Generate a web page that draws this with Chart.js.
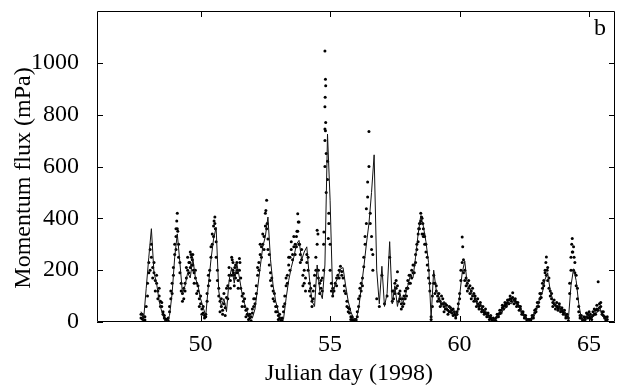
<!DOCTYPE html>
<html>
<head>
<meta charset="utf-8">
<script src="https://cdn.jsdelivr.net/npm/chart.js@4.4.1/dist/chart.umd.min.js"></script>
<style>
  html, body { margin: 0; padding: 0; background: #fff; }
  #fluxChart { display: block; }
</style>
</head>
<body>
<canvas id="fluxChart" width="619" height="388"></canvas>
<script>
// Momentum flux, Julian day 1998 (panel b)
const xTicks = [50, 55, 60, 65];
const yTicks = [0, 200, 400, 600, 800, 1000];
const panelLabel = 'b';
const xTitle = 'Julian day (1998)';
const yTitle = 'Momentum flux (mPa)';

// solid line (0.1 day sampling)
const lineDays = [
  47.7, 47.8, 47.9, 48.0, 48.1, 48.2, 48.3, 48.4, 48.5, 48.6,
  48.7, 48.8, 48.9, 49.0, 49.1, 49.2, 49.3, 49.4, 49.5, 49.6,
  49.7, 49.8, 49.9, 50.0, 50.1, 50.2, 50.3, 50.4, 50.5, 50.6,
  50.7, 50.8, 50.9, 51.0, 51.1, 51.2, 51.3, 51.4, 51.5, 51.6,
  51.7, 51.8, 51.9, 52.0, 52.1, 52.2, 52.3, 52.4, 52.5, 52.6,
  52.7, 52.8, 52.9, 53.0, 53.1, 53.2, 53.3, 53.4, 53.5, 53.6,
  53.7, 53.8, 53.9, 54.0, 54.1, 54.2, 54.3, 54.4, 54.5, 54.6,
  54.7, 54.8, 54.9, 55.0, 55.1, 55.2, 55.3, 55.4, 55.5, 55.6,
  55.7, 55.8, 55.9, 56.0, 56.1, 56.2, 56.3, 56.4, 56.5, 56.6,
  56.7, 56.8, 56.9, 57.0, 57.1, 57.2, 57.3, 57.4, 57.5, 57.6,
  57.7, 57.8, 57.9, 58.0, 58.1, 58.2, 58.3, 58.4, 58.5, 58.6,
  58.7, 58.8, 58.9, 59.0, 59.1, 59.2, 59.3, 59.4, 59.5, 59.6,
  59.7, 59.8, 59.9, 60.0, 60.1, 60.2, 60.3, 60.4, 60.5, 60.6,
  60.7, 60.8, 60.9, 61.0, 61.1, 61.2, 61.3, 61.4, 61.5, 61.6,
  61.7, 61.8, 61.9, 62.0, 62.1, 62.2, 62.3, 62.4, 62.5, 62.6,
  62.7, 62.8, 62.9, 63.0, 63.1, 63.2, 63.3, 63.4, 63.5, 63.6,
  63.7, 63.8, 63.9, 64.0, 64.1, 64.2, 64.3, 64.4, 64.5, 64.6,
  64.7, 64.8, 64.9, 65.0, 65.1, 65.2, 65.3, 65.4, 65.5, 65.6,
  65.7
];
const lineFlux = [
  40, 10, 130, 250, 360, 190, 150, 80, 40, 10,
  0, 25, 110, 250, 340, 230, 110, 140, 190, 170,
  245, 170, 140, 90, 55, 25, 140, 240, 320, 365,
  120, 60, 90, 40, 160, 210, 150, 225, 170, 110,
  70, 40, 20, 15, 50, 130, 210, 290, 330, 405,
  240, 140, 80, 40, 8, 10, 90, 160, 210, 250,
  300, 315, 240, 270, 290, 170, 80, 60, 220, 120,
  90, 220, 725, 470, 100, 150, 170, 205, 210, 140,
  80, 40, 15, 5, 50, 130, 210, 300, 380, 500,
  645, 200, 70, 215, 60, 110, 310, 70, 140, 60,
  110, 70, 100, 140, 180, 170, 250, 340, 410, 370,
  310, 230, 15, 200, 120, 100, 60, 80, 50, 60,
  35, 40, 25, 100, 190, 235, 140, 130, 100, 95,
  60, 70, 40, 45, 20, 25, 8, 12, 25, 30,
  50, 55, 75, 70, 85, 65, 60, 35, 25, 8,
  3, 15, 35, 55, 95, 115, 165, 190, 120, 85,
  60, 65, 45, 50, 25, 10, 140, 205, 160, 70,
  15, 5, 20, 30, 15, 40, 35, 60, 25, 15,
  5
];

// dots (0.05 day sampling, two samples per time, null = no sample)
const dotDays = [
  47.7, 47.75, 47.8, 47.85, 47.9, 47.95, 48.0, 48.05, 48.1, 48.15, 48.2, 48.25, 48.3, 48.35, 48.4, 48.45, 48.5, 48.55, 48.6, 48.65,
  48.7, 48.75, 48.8, 48.85, 48.9, 48.95, 49.0, 49.05, 49.1, 49.15, 49.2, 49.25, 49.3, 49.35, 49.4, 49.45, 49.5, 49.55, 49.6, 49.65,
  49.7, 49.75, 49.8, 49.85, 49.9, 49.95, 50.0, 50.05, 50.1, 50.15, 50.2, 50.25, 50.3, 50.35, 50.4, 50.45, 50.5, 50.55, 50.6, 50.65,
  50.7, 50.75, 50.8, 50.85, 50.9, 50.95, 51.0, 51.05, 51.1, 51.15, 51.2, 51.25, 51.3, 51.35, 51.4, 51.45, 51.5, 51.55, 51.6, 51.65,
  51.7, 51.75, 51.8, 51.85, 51.9, 51.95, 52.0, 52.05, 52.1, 52.15, 52.2, 52.25, 52.3, 52.35, 52.4, 52.45, 52.5, 52.55, 52.6, 52.65,
  52.7, 52.75, 52.8, 52.85, 52.9, 52.95, 53.0, 53.05, 53.1, 53.15, 53.2, 53.25, 53.3, 53.35, 53.4, 53.45, 53.5, 53.55, 53.6, 53.65,
  53.7, 53.75, 53.8, 53.85, 53.9, 53.95, 54.0, 54.05, 54.1, 54.15, 54.2, 54.25, 54.3, 54.35, 54.4, 54.45, 54.5, 54.55, 54.6, 54.65,
  54.7, 54.75, 54.8, 54.85, 54.9, 54.95, 55.0, 55.05, 55.1, 55.15, 55.2, 55.25, 55.3, 55.35, 55.4, 55.45, 55.5, 55.55, 55.6, 55.65,
  55.7, 55.75, 55.8, 55.85, 55.9, 55.95, 56.0, 56.05, 56.1, 56.15, 56.2, 56.25, 56.3, 56.35, 56.4, 56.45, 56.5, 56.55, 56.6, 56.65,
  56.7, 56.75, 56.8, 56.85, 56.9, 56.95, 57.0, 57.05, 57.1, 57.15, 57.2, 57.25, 57.3, 57.35, 57.4, 57.45, 57.5, 57.55, 57.6, 57.65,
  57.7, 57.75, 57.8, 57.85, 57.9, 57.95, 58.0, 58.05, 58.1, 58.15, 58.2, 58.25, 58.3, 58.35, 58.4, 58.45, 58.5, 58.55, 58.6, 58.65,
  58.7, 58.75, 58.8, 58.85, 58.9, 58.95, 59.0, 59.05, 59.1, 59.15, 59.2, 59.25, 59.3, 59.35, 59.4, 59.45, 59.5, 59.55, 59.6, 59.65,
  59.7, 59.75, 59.8, 59.85, 59.9, 59.95, 60.0, 60.05, 60.1, 60.15, 60.2, 60.25, 60.3, 60.35, 60.4, 60.45, 60.5, 60.55, 60.6, 60.65,
  60.7, 60.75, 60.8, 60.85, 60.9, 60.95, 61.0, 61.05, 61.1, 61.15, 61.2, 61.25, 61.3, 61.35, 61.4, 61.45, 61.5, 61.55, 61.6, 61.65,
  61.7, 61.75, 61.8, 61.85, 61.9, 61.95, 62.0, 62.05, 62.1, 62.15, 62.2, 62.25, 62.3, 62.35, 62.4, 62.45, 62.5, 62.55, 62.6, 62.65,
  62.7, 62.75, 62.8, 62.85, 62.9, 62.95, 63.0, 63.05, 63.1, 63.15, 63.2, 63.25, 63.3, 63.35, 63.4, 63.45, 63.5, 63.55, 63.6, 63.65,
  63.7, 63.75, 63.8, 63.85, 63.9, 63.95, 64.0, 64.05, 64.1, 64.15, 64.2, 64.25, 64.3, 64.35, 64.4, 64.45, 64.5, 64.55, 64.6, 64.65,
  64.7, 64.75, 64.8, 64.85, 64.9, 64.95, 65.0, 65.05, 65.1, 65.15, 65.2, 65.25, 65.3, 65.35, 65.4, 65.45, 65.5, 65.55, 65.6, 65.65,
  65.7
];
const dotFluxA = [
  30, 12, 20, 8, 60, 150, 230, 280, 250, 210, 190, 160, 150, 120, 100, 80, 60, 40, 25, 12,
  5, 15, 40, 90, 150, 210, 260, 330, 420, 300, 230, 150, 110, 90, 120, 170, 200, 230, 210, 250,
  220, 190, 170, 150, 120, 90, 70, 50, 35, 25, 30, 80, 140, 200, 250, 300, 370, 405, 310, 200,
  130, 80, 60, 45, 70, 55, 95, 140, 180, 160, 250, 200, 180, 220, 190, 160, 245, 130, 100, 80,
  60, 45, 30, 25, 15, 20, 35, 60, 90, 140, 180, 230, 260, 290, 300, 330, 420, 470, 320, 220,
  190, 140, 120, 80, 60, 40, 25, 15, 8, 5, 40, 100, 140, 180, 220, 250, 280, 260, 290, 300,
  330, 418, 386, 260, 240, 180, 150, 120, 260, 200, 150, 100, 80, 120, 180, 250, 354, 200, 150, 130,
  170, 300, 700, 650, 550, 420, 300, 150, 100, 120, 150, 170, 180, 200, 215, 195, 170, 140, 110, 80,
  55, 35, 20, 10, 5, 3, 10, 40, 90, 130, 120, 170, 213, 300, 437, 540, 735, 420, 330, 260,
  null, null, 90, null, 60, null, 180, null, 70, null, 100, null, 250, null, 80, 120, 150, 130, 194, 110,
  90, 70, 60, 100, 90, 130, 160, 150, 180, 200, 190, 220, 260, 300, 340, 360, 420, 400, 360, 330,
  300, 250, 200, 150, 20, 60, 180, 150, 120, 100, 90, 80, 100, 70, 60, 70, 50, 45, 60, 40,
  35, 50, 30, 25, 40, 70, 110, 160, 328, 240, 200, 170, 150, 130, 140, 120, 100, 110, 90, 80,
  70, 60, 65, 50, 45, 40, 35, 30, 25, 20, 15, 10, 8, 5, 15, 20, 30, 35, 45, 55,
  60, 65, 70, 75, 85, 90, 90, 113, 85, 80, 75, 65, 60, 50, 40, 30, 25, 15, 10, 5,
  5, 10, 15, 25, 35, 50, 60, 75, 90, 110, 130, 160, 190, 251, 210, 170, 120, 90, 75, 70,
  65, 60, 55, 60, 50, 45, 40, 35, 25, 20, 15, 110, 200, 322, 290, 230, 180, 130, 60, 25,
  15, 10, 8, 15, 20, 30, 25, 15, 20, 40, 30, 45, 50, 155, 70, 60, 40, 25, 15, 10,
  10
];
const dotFluxB = [
  15, 30, 5, 20, null, 100, 190, 200, 300, 170, 230, 120, 180, 90, 130, 60, 75, 30, 15, 5,
  10, 5, 60, 120, 110, 180, 300, 280, 360, 250, 190, 120, 80, 130, 150, 210, 250, 190, 270, 220,
  260, 150, 200, 110, 140, 60, 100, 30, 60, 15, 20, 110, 180, 160, 290, 340, 330, 380, 250, 160,
  100, 40, 90, 30, 110, 25, 130, 90, 210, 130, 180, 230, 140, 170, 230, 130, 200, 170, 60, 110,
  90, 20, 50, 10, 30, 5, 50, 90, 70, 110, 210, 200, 300, 250, 340, 280, 370, 360, 280, 260,
  160, 170, 90, 110, 40, 60, 10, 30, 3, 15, 60, 70, 170, 150, 250, 200, 310, 240, 330, 260,
  290, 350, 300, 230, 280, 140, 200, 170, 230, 250, 120, 130, 60, 90, 140, 200, 300, 170, 110, 160,
  120, 200, 600, 500, 620, 380, 200, 120, 130, null, null, 140, null, 170, null, 180, null, 120, null, 60,
  40, 50, 10, 20, 3, 10, 5, 20, 60, 100, 150, 140, 250, 330, 380, 482, 600, 380, 280, 200,
  null, null, null, null, null, null, null, null, null, null, null, null, null, null, 120, 90, 110, 160, 140, 80,
  120, 50, 90, 70, 120, 100, 130, 180, 150, 170, 220, 190, 230, 280, 310, 380, 390, 340, 330, 300,
  270, 220, 170, 120, 10, 100, 150, 110, 140, 80, 110, 60, 70, 90, 40, 50, 65, 30, 40, 55,
  45, 25, 40, 15, 30, 50, 90, 200, 230, 190, 160, 140, 120, 160, 110, 90, 130, 80, 100, 60,
  90, 50, 75, 40, 60, 30, 50, 20, 35, 10, 25, 5, 15, 10, 5, 30, 20, 45, 35, 65,
  50, 75, 60, 85, 70, 100, 80, 95, 70, 90, 60, 75, 45, 60, 30, 40, 15, 25, 5, 10,
  10, 3, 25, 15, 45, 40, 75, 60, 110, 95, 150, 140, 200, 180, 160, 130, 100, 110, 60, 85,
  50, 75, 45, 70, 40, 55, 30, 45, 15, 30, 5, 150, 250, 270, 200, 190, 140, 90, 40, 15,
  25, 5, 20, 10, 35, 15, 40, 30, 10, 25, 50, 30, 65, 45, 55, 75, 30, 40, 20, 5,
  20
];

// extra dots: outliers above the peaks and denser clusters
const extraDays = [
  49.05, 49.08, 49.12, 49.58, 49.63, 49.68, 49.72, 50.52, 50.57,
  51.22, 51.27, 51.32, 51.42, 51.52, 52.52, 52.57, 53.72, 53.77, 53.82,
  54.53, 54.76, 54.8, 54.82, 54.83, 54.81, 54.8, 54.83, 54.8, 54.82, 54.93,
  58.42, 58.48, 58.53, 58.58, 58.62, 60.12, 63.33, 63.38,
  64.33, 64.37, 64.42
];
const extraFlux = [
  360, 390, 350, 230, 260, 240, 200, 390, 360,
  240, 190, 210, 200, 230, 430, 380, 350, 386, 300,
  340, 347, 1046, 937, 912, 867, 831, 770, 745, 738, 322,
  360, 380, 405, 380, 340, 290, 230, 200,
  300, 270, 250
];

const toPoints = (xs, ys) => xs.map((d, i) => ({ x: d, y: ys[i] }));
const dotPoints = toPoints(dotDays, dotFluxA)
  .concat(toPoints(dotDays, dotFluxB))
  .concat(toPoints(extraDays, extraFlux));

const serif = '"Liberation Serif", "DejaVu Serif", serif';

// MATLAB-style box with inward ticks, panel letter and axis titles
const framePlugin = {
  id: 'frame',
  afterDatasetsDraw(chart) {
    const { ctx, chartArea: a, scales } = chart;
    ctx.save();
    ctx.strokeStyle = '#000';
    ctx.lineWidth = 1;
    ctx.beginPath();
    ctx.rect(a.left + 0.5, a.top + 0.5, a.right - a.left - 1, a.bottom - a.top - 1);
    xTicks.forEach(v => {
      const px = Math.round(scales.x.getPixelForValue(v)) + 0.5;
      ctx.moveTo(px, a.bottom); ctx.lineTo(px, a.bottom - 6);
      ctx.moveTo(px, a.top); ctx.lineTo(px, a.top + 6);
    });
    yTicks.forEach(v => {
      const py = Math.round(scales.y.getPixelForValue(v)) + 0.5;
      ctx.moveTo(a.left, py); ctx.lineTo(a.left + 6, py);
      ctx.moveTo(a.right, py); ctx.lineTo(a.right - 6, py);
    });
    ctx.stroke();

    ctx.fillStyle = '#000';
    ctx.font = '24px ' + serif;
    ctx.textAlign = 'right';
    ctx.textBaseline = 'alphabetic';
    ctx.fillText(panelLabel, a.right - 9, a.top + 24);

    ctx.textAlign = 'center';
    ctx.textBaseline = 'middle';
    ctx.fillText(xTitle, 349, 374);
    ctx.translate(24, 178);
    ctx.rotate(-Math.PI / 2);
    ctx.fillText(yTitle, 0, 0);
    ctx.restore();
  }
};

const ctx = document.getElementById('fluxChart').getContext('2d');
const fluxChart = new Chart(ctx, {
  type: 'scatter',
  data: {
    datasets: [{
      label: 'line',
      data: toPoints(lineDays, lineFlux),
      showLine: true,
      borderColor: '#111',
      borderWidth: 1,
      pointRadius: 0,
      tension: 0
    }, {
      label: 'dots',
      data: dotPoints,
      showLine: false,
      pointRadius: 1.5,
      pointBorderWidth: 0,
      backgroundColor: '#000',
      borderColor: '#000'
    }]
  },
  options: {
    responsive: false,
    animation: false,
    devicePixelRatio: 1,
    layout: { padding: { top: 11, right: 2, left: 0, bottom: 0 } },
    plugins: {
      legend: { display: false },
      tooltip: { enabled: false }
    },
    scales: {
      x: {
        type: 'linear',
        min: 46,
        max: 66,
        grid: { display: false },
        border: { display: false },
        afterBuildTicks: s => { s.ticks = xTicks.map(v => ({ value: v })); },
        afterFit: s => { s.height = 66; s.paddingLeft = 0; s.paddingRight = 0; },
        ticks: { color: '#000', padding: 0, font: { family: serif, size: 24 }, callback: v => String(v) }
      },
      y: {
        type: 'linear',
        min: 0,
        max: 1200,
        grid: { display: false },
        border: { display: false },
        afterBuildTicks: s => { s.ticks = yTicks.map(v => ({ value: v })); },
        afterFit: s => { s.width = 97; s.paddingTop = 0; s.paddingBottom = 0; },
        ticks: { color: '#000', padding: 10, font: { family: serif, size: 24 }, callback: v => String(v) }
      }
    }
  },
  plugins: [framePlugin]
});
</script>
</body>
</html>
